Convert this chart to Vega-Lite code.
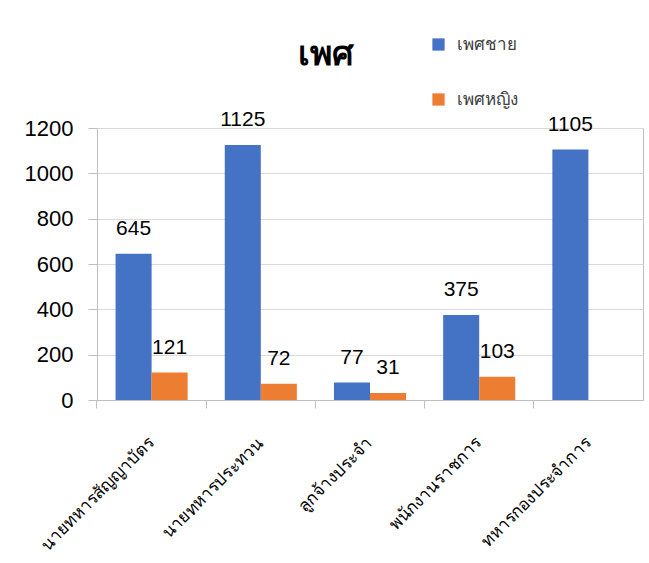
{
  "$schema": "https://vega.github.io/schema/vega-lite/v6.json",
  "width": 546,
  "height": 272,
  "autosize": {"type": "none"},
  "padding": {"left": 97, "top": 128, "right": 6, "bottom": 163},
  "background": "white",
  "config": {"font": "Liberation Sans", "view": {"stroke": "#bfbfbf"}},
  "title": {"text": "เพศ", "fontSize": 34, "fontWeight": "bold", "anchor": "start", "frame": "group", "dx": 201, "offset": 0, "dy": 36, "color": "black"},
  "data": {"values": [
    {"category": "นายทหารสัญญาบัตร", "gender": "เพศชาย", "value": 645},
    {"category": "นายทหารสัญญาบัตร", "gender": "เพศหญิง", "value": 121},
    {"category": "นายทหารประทวน", "gender": "เพศชาย", "value": 1125},
    {"category": "นายทหารประทวน", "gender": "เพศหญิง", "value": 72},
    {"category": "ลูกจ้างประจำ", "gender": "เพศชาย", "value": 77},
    {"category": "ลูกจ้างประจำ", "gender": "เพศหญิง", "value": 31},
    {"category": "พนักงานราชการ", "gender": "เพศชาย", "value": 375},
    {"category": "พนักงานราชการ", "gender": "เพศหญิง", "value": 103},
    {"category": "ทหารกองประจำการ", "gender": "เพศชาย", "value": 1105}
  ]},
  "layer": [
    {
      "mark": {"type": "bar"},
      "encoding": {
        "x": {"field": "category", "type": "nominal", "sort": null,
          "scale": {"paddingInner": 0.34, "paddingOuter": 0.17},
          "axis": {"orient": "bottom", "bandPosition": -0.2576, "labels": false, "ticks": true, "tickSize": 8, "tickColor": "#bfbfbf", "domainColor": "#bfbfbf", "title": null}},
        "xOffset": {"field": "gender", "type": "nominal", "sort": ["เพศชาย", "เพศหญิง"], "scale": {"paddingInner": 0, "paddingOuter": 0}},
        "y": {"field": "value", "type": "quantitative", "scale": {"domain": [0, 1200]},
          "axis": {"values": [0, 200, 400, 600, 800, 1000, 1200], "format": "d", "title": null, "labelFontSize": 22, "labelColor": "black", "tickSize": 9, "tickColor": "#bfbfbf", "domainColor": "#bfbfbf", "gridColor": "#d9d9d9", "labelPadding": 15}},
        "color": {"field": "gender", "type": "nominal", "sort": ["เพศชาย", "เพศหญิง"],
          "scale": {"domain": ["เพศชาย", "เพศหญิง"], "range": ["#4472C4", "#ED7D31"]},
          "legend": {"orient": "none", "legendX": 333, "legendY": -92, "title": null, "symbolType": "square", "symbolSize": 150, "symbolStrokeWidth": 0, "labelFontSize": 17, "labelColor": "#404040", "rowPadding": 37, "labelOffset": 10}}
      }
    },
    {
      "mark": {"type": "text", "dy": -19, "baseline": "alphabetic", "fontSize": 21, "color": "black"},
      "encoding": {
        "x": {"field": "category", "type": "nominal", "sort": null,
          "axis": {"orient": "bottom", "ticks": false, "domain": false, "title": null, "labelAngle": -45, "labelAlign": "right", "labelBaseline": "middle", "labelFontSize": 17, "labelColor": "black", "labelPadding": 40, "labelLimit": 300}},
        "xOffset": {"field": "gender", "type": "nominal", "sort": ["เพศชาย", "เพศหญิง"]},
        "y": {"field": "value", "type": "quantitative"},
        "text": {"field": "value", "type": "quantitative"}
      }
    }
  ],
  "resolve": {"axis": {"x": "independent"}}
}
